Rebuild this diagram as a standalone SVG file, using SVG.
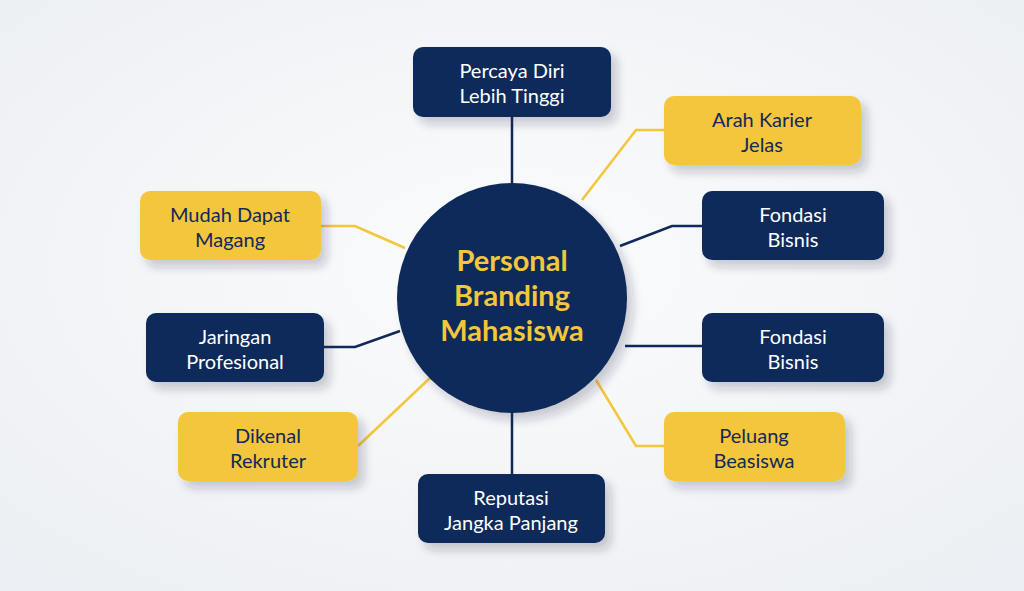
<svg xmlns="http://www.w3.org/2000/svg" width="1024" height="591" viewBox="0 0 1024 591">
<defs>
<radialGradient id="bg" cx="0.5" cy="0.45" r="0.7"><stop offset="0" stop-color="#fbfcfd"/><stop offset="1" stop-color="#eceff3"/></radialGradient>
<filter id="sh" x="-20%" y="-20%" width="150%" height="160%"><feDropShadow dx="6" dy="7" stdDeviation="5" flood-color="#1a2a44" flood-opacity="0.22"/></filter>
<style>
.n rect{rx:10;filter:url(#sh)}
.nv rect{fill:#11295a}
.yl rect{fill:#f4c63b}
text{font-family:Lato,"Open Sans",sans-serif;font-size:20px;text-anchor:middle}
.nv text{fill:#fff}
.yl text{fill:#11295a}
.cn path{fill:none;stroke-width:2.5}
.cn .d{stroke:#11295a}
.cn .y{stroke:#f4c63b}
</style>
</defs>
<rect width="1024" height="591" fill="url(#bg)"/>
<g class="cn">
<path class="d" d="M512 117V185"/>
<path class="y" d="M582 200L636 130H664"/>
<path class="d" d="M620 246L672 226H702"/>
<path class="d" d="M625 346H702"/>
<path class="y" d="M596 380L636 446H664"/>
<path class="d" d="M512 410V474"/>
<path class="y" d="M358 446L430 378"/>
<path class="d" d="M324 347H355L400 331"/>
<path class="y" d="M321 226H355L405 248"/>
</g>
<g id="center"><circle cx="512" cy="298" r="115" fill="#11295a" filter="url(#sh)"/>
<text x="512" y="271" style="font-size:29px;font-weight:bold;fill:#f4c63b">Personal</text>
<text x="512" y="306" style="font-size:29px;font-weight:bold;fill:#f4c63b">Branding</text>
<text x="512" y="341" style="font-size:29px;font-weight:bold;fill:#f4c63b">Mahasiswa</text></g>
<g id="n1" class="n nv"><rect x="413" y="47" width="198" height="70"/><text x="512" y="78">Percaya Diri</text><text x="512" y="103">Lebih Tinggi</text></g>
<g id="n2" class="n yl"><rect x="664" y="96" width="197" height="69"/><text x="762" y="127">Arah Karier</text><text x="762" y="152">Jelas</text></g>
<g id="n3" class="n nv"><rect x="702" y="191" width="182" height="69"/><text x="793" y="222">Fondasi</text><text x="793" y="247">Bisnis</text></g>
<g id="n4" class="n nv"><rect x="702" y="313" width="182" height="69"/><text x="793" y="344">Fondasi</text><text x="793" y="369">Bisnis</text></g>
<g id="n5" class="n yl"><rect x="664" y="412" width="181" height="69"/><text x="754" y="443">Peluang</text><text x="754" y="468">Beasiswa</text></g>
<g id="n6" class="n nv"><rect x="418" y="474" width="187" height="69"/><text x="511" y="505">Reputasi</text><text x="511" y="530">Jangka Panjang</text></g>
<g id="n7" class="n yl"><rect x="178" y="412" width="180" height="69"/><text x="268" y="443">Dikenal</text><text x="268" y="468">Rekruter</text></g>
<g id="n8" class="n nv"><rect x="146" y="313" width="178" height="69"/><text x="235" y="344">Jaringan</text><text x="235" y="369">Profesional</text></g>
<g id="n9" class="n yl"><rect x="140" y="191" width="181" height="69"/><text x="230" y="222">Mudah Dapat</text><text x="230" y="247">Magang</text></g>
</svg>
